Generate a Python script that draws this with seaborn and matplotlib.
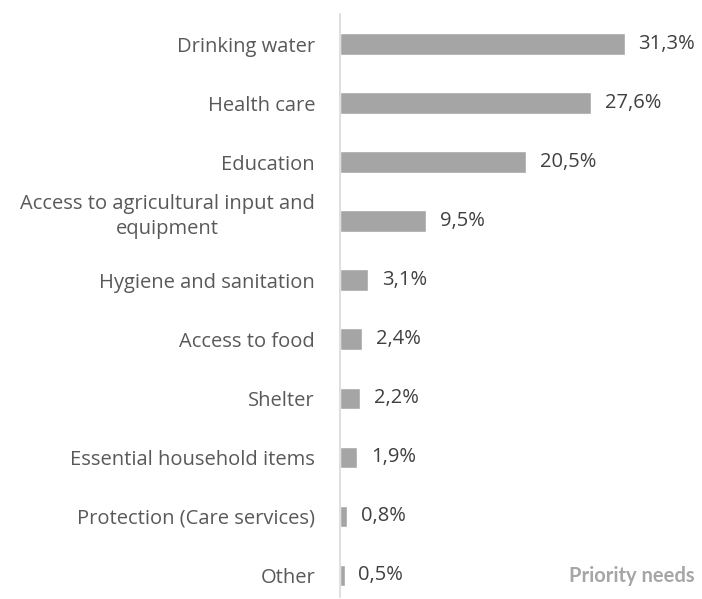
import matplotlib
matplotlib.use("Agg")
import matplotlib.pyplot as plt
import matplotlib.transforms as mtransforms
import seaborn as sns
import pandas as pd

categories = ["Drinking water", "Health care", "Education",
              "Access to agricultural input and\nequipment",
              "Hygiene and sanitation", "Access to food", "Shelter",
              "Essential household items", "Protection (Care services)", "Other"]
values = [31.3, 27.6, 20.5, 9.5, 3.1, 2.4, 2.2, 1.9, 0.8, 0.5]
value_labels = ["31,3%", "27,6%", "20,5%", "9,5%", "3,1%", "2,4%", "2,2%", "1,9%", "0,8%", "0,5%"]
title = "Priority needs"

sns.set_theme(style="white")
plt.rcParams['font.family'] = ['Open Sans', 'DejaVu Sans']

df = pd.DataFrame({"cat": categories, "val": values})

fig = plt.figure(figsize=(7.02, 5.99), dpi=100)
ax = fig.add_axes([340/702, 0.0033, 320/702, 0.9758 - 0.0033])
sns.barplot(data=df, y="cat", x="val", orient="h", color="#A5A5A5",
            saturation=1, width=0.36, ax=ax)
ax.set_xlim(0, 35.2)
ax.set_ylim(9.37, -0.5)
ax.set_xlabel("")
ax.set_ylabel("")
ax.set_xticks([])
for s in ["top", "right", "bottom"]:
    ax.spines[s].set_visible(False)
ax.spines["left"].set_color("#D9D9D9")
ax.spines["left"].set_linewidth(1.2)
ax.tick_params(axis="y", length=0, pad=18, labelsize=14.5, labelcolor="#595959")
shift = mtransforms.ScaledTranslation(0, 7/72, fig.dpi_scale_trans)
for lbl in ax.get_yticklabels():
    lbl.set_horizontalalignment("right")
    lbl.set_multialignment("center")
    lbl.set_linespacing(1.35)
    if "\n" in lbl.get_text():
        lbl.set_transform(lbl.get_transform() + shift)

for i, (v, t) in enumerate(zip(values, value_labels)):
    ax.annotate(t, xy=(v, i), xytext=(10, 0), textcoords="offset points",
                va="center", ha="left", fontsize=14.5, color="#404040")

fig.text(695/702, 1 - 576/599, title, ha="right", va="center",
         fontsize=14.5, fontweight="bold", color="#A6A6A6", family=["Lato", "DejaVu Sans"])

fig.savefig("out.png", dpi=100)
